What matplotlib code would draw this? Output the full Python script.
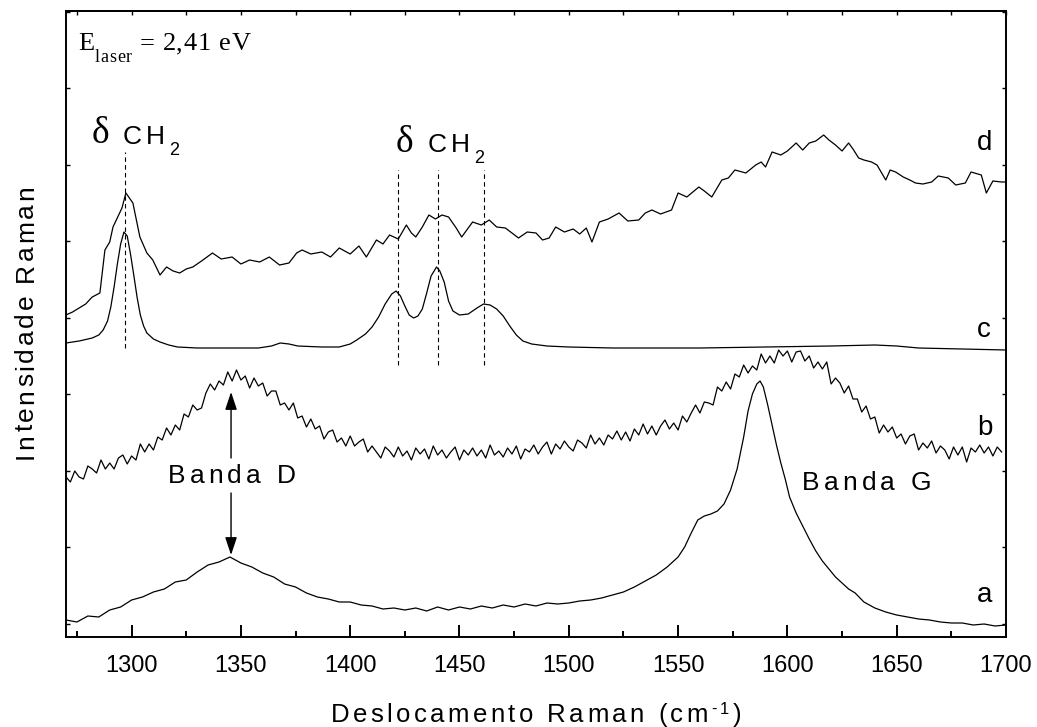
import matplotlib
matplotlib.use("Agg")
import matplotlib.pyplot as plt
import numpy as np
from matplotlib.font_manager import FontProperties, findfont
from matplotlib.ft2font import FT2Font
from matplotlib.ticker import MultipleLocator

# Raman spectra, intensities in arbitrary units (traces already offset)
a_shift = [1270, 1275, 1280, 1285, 1290, 1295, 1300, 1305, 1310, 1315, 1320, 1325,
           1330, 1335, 1340, 1345, 1350, 1355, 1360, 1365, 1370, 1375, 1380, 1385,
           1390, 1395, 1400, 1405, 1410, 1415, 1420, 1425, 1430, 1435, 1440, 1445,
           1450, 1455, 1460, 1465, 1470, 1475, 1480, 1485, 1490, 1495, 1500, 1505,
           1510, 1515, 1520, 1525, 1530, 1535, 1540, 1545, 1550, 1553, 1556, 1559,
           1562, 1565, 1568, 1571, 1574, 1577, 1580, 1582, 1584, 1586, 1587.5, 1589,
           1591, 1593, 1595, 1597, 1599, 1601, 1604, 1607, 1610, 1613, 1616, 1619,
           1622, 1625, 1628, 1631, 1635, 1640, 1645, 1650, 1655, 1660, 1665, 1670,
           1675, 1680, 1685, 1690, 1695, 1700]
a_int = [17, 15, 21, 20, 27, 30, 37, 40, 45, 48, 55, 57,
         65, 72, 75, 80, 74, 70, 64, 60, 53, 50, 44, 40,
         38, 35, 35, 32, 31, 28, 29, 27, 29, 26, 30, 27,
         30, 28, 31, 29, 32, 30, 33, 31, 34, 33, 34, 36,
         37, 39, 42, 45, 50, 56, 62, 70, 80, 90, 104, 117,
         121, 123, 126, 133, 147, 168, 200, 226, 243, 253, 256, 250,
         232, 212, 192, 174, 158, 140, 124, 111, 98, 86, 76, 68,
         60, 54, 48, 44, 35, 29, 25, 22, 20, 18, 17, 15,
         14, 14, 12, 13, 11, 12]

b_shift = list(range(1270, 1699, 2))
b_int = [160, 155, 166, 160, 158, 171, 168, 164, 177, 168, 174, 168, 179, 182, 173, 181, 177, 193, 185,
         193, 187, 200, 197, 209, 202, 212, 207, 223, 220, 232, 227, 229, 244, 253, 247, 256, 252, 265,
         256, 267, 257, 261, 249, 259, 251, 254, 241, 246, 246, 232, 234, 227, 234, 219, 221, 210, 218,
         208, 211, 198, 205, 207, 195, 199, 191, 201, 191, 195, 198, 185, 191, 185, 179, 190, 186, 180,
         190, 181, 186, 177, 189, 183, 188, 178, 191, 182, 187, 179, 185, 190, 177, 187, 182, 189, 181,
         187, 179, 192, 182, 186, 180, 189, 183, 191, 178, 188, 185, 192, 183, 190, 195, 183, 193, 188,
         196, 190, 186, 197, 194, 189, 202, 193, 199, 192, 202, 198, 206, 197, 205, 196, 208, 202, 213,
         203, 211, 202, 211, 217, 208, 214, 207, 221, 215, 224, 232, 224, 235, 234, 232, 250, 246, 255,
         248, 263, 260, 272, 264, 271, 267, 283, 274, 281, 274, 287, 281, 286, 275, 285, 286, 276, 281,
         269, 275, 268, 275, 253, 259, 254, 244, 251, 238, 238, 225, 231, 218, 220, 204, 212, 205, 210,
         199, 203, 193, 201, 203, 187, 194, 189, 196, 184, 191, 187, 178, 190, 182, 190, 175, 189, 185,
         192, 184, 190, 181, 190, 185]

c_shift = [1270, 1276, 1282, 1285, 1287, 1289, 1290.5, 1292, 1293.5, 1295, 1296.5,
           1298, 1299.5, 1301, 1302.5, 1304, 1305.5, 1307, 1310, 1313, 1317, 1321,
           1330, 1343, 1358, 1364, 1368, 1372, 1376, 1387, 1395, 1400, 1403, 1407,
           1410, 1413, 1416, 1419, 1421, 1423, 1425, 1427, 1429, 1431, 1433, 1435,
           1437, 1439.5, 1441, 1443, 1445, 1447, 1450, 1454, 1458, 1461, 1464, 1467,
           1470, 1473, 1476, 1479, 1483, 1490, 1500, 1520, 1560, 1590, 1620, 1640,
           1650, 1660, 1680, 1700]
c_int = [294, 296, 299, 302, 307, 316, 330, 350, 373, 393, 405,
         401, 383, 362, 340, 322, 311, 304, 298, 295, 292, 290,
         289, 289, 289, 291, 294, 293, 291, 290, 290, 293, 297, 303,
         310, 320, 333, 343, 346, 341, 331, 322, 319, 321, 328, 344,
         361, 370, 366, 355, 336, 326, 322, 323, 329, 333, 332, 328,
         321, 311, 302, 296, 293, 291, 290, 289, 289, 290, 291, 292,
         291, 289, 288, 287]

d_shift = [1270, 1273, 1276, 1279, 1282, 1285.5, 1287.8, 1290, 1291.5, 1295.6, 1297.4,
           1300.6, 1303.8, 1307, 1309.7, 1313, 1316, 1319, 1322, 1325, 1328, 1332,
           1337, 1341, 1346, 1350, 1354, 1358.6, 1363, 1367.7, 1372, 1375.5, 1378,
           1382, 1387, 1391, 1395, 1400, 1404, 1407.4, 1412, 1415, 1418, 1422,
           1425.7, 1428, 1430, 1433, 1436, 1439, 1442, 1445, 1448.5, 1451, 1456,
           1460, 1463.6, 1467, 1471, 1474, 1477, 1481, 1485, 1488, 1491, 1494,
           1498, 1502, 1505, 1508, 1510.6, 1514, 1518, 1523, 1527, 1532, 1535,
           1538, 1542, 1547, 1550, 1554, 1559.5, 1562, 1565.4, 1570, 1573, 1576,
           1581, 1585.5, 1588, 1590, 1593, 1597, 1600, 1604, 1607, 1610, 1613,
           1616.6, 1619, 1622, 1625, 1628, 1630, 1632.6, 1635, 1638.5, 1641, 1645,
           1647, 1649.5, 1653, 1656, 1658.6, 1662, 1666, 1669, 1673.6, 1677,
           1681.4, 1684, 1688.7, 1691, 1694, 1698, 1700]
d_int = [322, 325, 329, 333, 340, 344, 387, 395, 410, 429, 444,
         434, 400, 384, 377, 362, 370, 366, 364, 368, 370, 376,
         384, 378, 380, 373, 377, 375, 380, 372, 374, 384, 387,
         383, 385, 380, 389, 383, 391, 380, 397, 393, 402, 398,
         412, 404, 400, 410, 422, 418, 422, 420, 409, 400, 415,
         412, 417, 410, 409, 404, 399, 405, 404, 397, 399, 410,
         405, 408, 403, 409, 395, 415, 418, 424, 416, 417, 424,
         427, 423, 427, 444, 440, 450, 446, 440, 457, 459, 467,
         464, 472, 475, 470, 485, 482, 486, 494, 487, 494, 496,
         502, 497, 492, 486, 494, 488, 479, 477, 475, 472, 457,
         467, 465, 460, 457, 454, 453, 455, 461, 459, 452,
         454, 465, 462, 444, 456, 455, 455]

traces = [(a_shift, a_int), (b_shift, b_int), (c_shift, c_int), (d_shift, d_int)]
trace_names = ["a", "b", "c", "d"]
name_levels = [35, 202, 300, 487]

ch2_shifts = [1297, 1422, 1440, 1461]
band_d_shift = 1345.5

plt.rcParams["font.family"] = "Liberation Sans"

_fonts = {}


def spaced_text(ax, x, y, parts, track=0.0, rotation=0, ha="center",
                family="Liberation Sans", coords="data"):
    """Write text letter by letter with extra tracking (points) between glyphs.

    parts is a list of (string, fontsize, baseline_shift_pt).
    """
    if family not in _fonts:
        _fonts[family] = FT2Font(findfont(FontProperties(family=family)))
    font = _fonts[family]
    glyphs = []
    pen = 0.0
    for s, size, rise in parts:
        font.set_size(size, 72)
        for ch in s:
            g = font.load_char(ord(ch))
            glyphs.append((ch, size, rise, pen))
            pen += g.linearHoriAdvance / 65536.0 + track
    total = pen - track
    start = {"left": 0.0, "center": -total / 2, "right": -total}[ha]
    th = np.deg2rad(rotation)
    ux, uy = np.cos(th), np.sin(th)
    for ch, size, rise, p in glyphs:
        if ch == " ":
            continue
        p += start
        ax.annotate(ch, xy=(x, y), xycoords=coords,
                    xytext=(p * ux - rise * uy, p * uy + rise * ux),
                    textcoords="offset points", ha="left", va="baseline",
                    rotation=rotation, rotation_mode="anchor",
                    fontsize=size, family=family, color="black")


fig = plt.figure(figsize=(10.37, 7.27), dpi=100)
ax = fig.add_axes([66 / 1037, 90 / 727, 940 / 1037, 626 / 727])

for shift, inten in traces:
    ax.plot(shift, inten, color="black", lw=0.9)

# dashed guides at the CH2 bending modes
ax.plot([ch2_shifts[0]] * 2, [289, 485], color="black", lw=0.8, ls=(0, (4, 3)))
for s in ch2_shifts[1:]:
    ax.plot([s, s], [272, 467], color="black", lw=0.8, ls=(0, (4, 3)))

# D band arrows
arrow = dict(arrowstyle="-|>,head_length=0.9,head_width=0.3", color="black",
             lw=1.0, mutation_scale=12, shrinkA=0, shrinkB=0)
ax.annotate("", xy=(band_d_shift, 245), xytext=(band_d_shift, 179), arrowprops=arrow)
ax.annotate("", xy=(band_d_shift, 82), xytext=(band_d_shift, 144), arrowprops=arrow)

ax.set_xlim(1270, 1700)
ax.set_ylim(0, 626)

ax.xaxis.set_major_locator(MultipleLocator(50))
ax.xaxis.set_minor_locator(MultipleLocator(25))
ax.set_yticks(np.arange(13.5, 626, 76.5))
ax.tick_params(axis="x", which="major", direction="in", length=8.5, width=1.4,
               labelsize=17, pad=13)
ax.tick_params(axis="x", which="minor", direction="in", length=4.3, width=1.4)
ax.tick_params(axis="y", direction="in", length=3, width=1.0, left=True,
               right=True, labelleft=False)
for sp in ax.spines.values():
    sp.set_linewidth(1.4)

top = ax.secondary_xaxis("top")
top.xaxis.set_major_locator(MultipleLocator(25))
top.tick_params(direction="in", length=3, width=1.0, labeltop=False)
top.spines["top"].set_linewidth(1.4)

# labels
spaced_text(ax, 0.5, -0.1358, [("Deslocamento Raman (cm", 18.5, 0), ("-1", 12, 6),
                               (")", 18.5, 0)],
            track=2.5, coords="axes fraction")
spaced_text(ax, -0.0351, 0.503, [("Intensidade Raman", 19, 0)], track=2.0,
            rotation=90, coords="axes fraction")

spaced_text(ax, 1275.5, 587, [("E", 19, 0), ("laser", 13, -8.4), (" = 2,41 eV", 19, 0)],
            track=0.5, ha="left", family="Liberation Serif")

ax.text(1281.6, 494, "δ", family="Liberation Serif", fontsize=27,
        ha="left", va="baseline")
spaced_text(ax, 1296.0, 493, [("CH", 19, 0), ("2", 13, -8)], track=3.0, ha="left")
ax.text(1420.8, 485, "δ", family="Liberation Serif", fontsize=27,
        ha="left", va="baseline")
spaced_text(ax, 1435.3, 485, [("CH", 19, 0), ("2", 13, -8)], track=3.0, ha="left")

spaced_text(ax, 1345.8, 154, [("Banda D", 19, 0)], track=3.0)
spaced_text(ax, 1636.2, 147, [("Banda G", 19, 0)], track=3.0)

for name, level in zip(trace_names, name_levels):
    ax.text(1686.8, level, name, fontsize=20, ha="left", va="baseline")

fig.savefig("out.png", dpi=100)
